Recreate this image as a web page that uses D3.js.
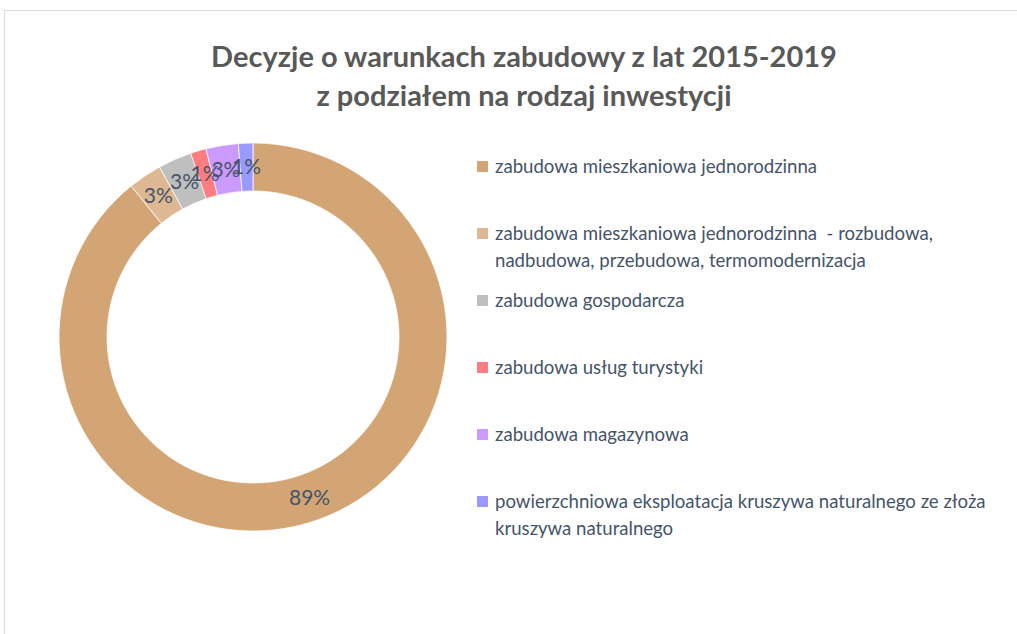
<!DOCTYPE html>
<html>
<head>
<meta charset="utf-8">
<script src="https://cdn.jsdelivr.net/npm/d3@7"></script>
<style>
  body { margin: 0; background: #fff; }
  svg { display: block; font-family: Lato, "Open Sans", sans-serif; }
</style>
</head>
<body>
<main></main>
<script>
// Donut with legend

const categories = [
	"zabudowa mieszkaniowa jednorodzinna",
	"zabudowa mieszkaniowa jednorodzinna  - rozbudowa,|nadbudowa, przebudowa, termomodernizacja",
	"zabudowa gospodarcza",
	"zabudowa usług turystyki",
	"zabudowa magazynowa",
	"powierzchniowa eksploatacja kruszywa naturalnego ze złoża|kruszywa naturalnego"
];
const values = [89.2, 2.8, 2.8, 1.3, 2.7, 1.2];
const labels = ["89%", "3%", "3%", "1%", "3%", "1%"];
const colors = ["#d3a574", "#ddb892", "#bfbfbf", "#ff7c80", "#cc99ff", "#9999ff"];
const titleLines = ["Decyzje o warunkach zabudowy z lat 2015-2019", "z podziałem na rodzaj inwestycji"];

const w = 1017;
const h = 634;
const cx = 253;
const cy = 337;
const rOut = 194;
const rIn = 146;
const textColor = "#44546a";

const svg = d3.select("main")
	.append("svg")
	.attr("width", w)
	.attr("height", h);

// chart frame
svg.append("rect")
	.attr("x", 4.5)
	.attr("y", 10.5)
	.attr("width", w + 20)
	.attr("height", h + 20)
	.attr("fill", "none")
	.attr("stroke", "#d9d9d9");

// title
svg.append("text")
	.attr("x", 524)
	.attr("y", 67)
	.attr("text-anchor", "middle")
	.attr("font-size", 29)
	.attr("font-weight", "bold")
	.attr("fill", "#595959")
	.style("white-space", "pre")
	.selectAll("tspan")
	.data(titleLines)
	.enter()
	.append("tspan")
	.attr("x", 524)
	.attr("dy", (d, i) => i === 0 ? 0 : 39)
	.text(d => d);

// donut
const pie = d3.pie().sort(null).value(d => d);
const arcs = pie(values);
const arc = d3.arc().innerRadius(rIn).outerRadius(rOut);
const labelArc = d3.arc().innerRadius(170).outerRadius(170);

const g = svg.append("g")
	.attr("transform", "translate(" + cx + "," + cy + ")");

g.selectAll("path")
	.data(arcs)
	.enter()
	.append("path")
	.attr("d", arc)
	.attr("fill", (d, i) => colors[i])
	.attr("stroke", "#fff")
	.attr("stroke-width", 0.75);

g.selectAll("text")
	.data(arcs)
	.enter()
	.append("text")
	.attr("transform", d => "translate(" + labelArc.centroid(d) + ")")
	.attr("text-anchor", "middle")
	.attr("dy", "0.35em")
	.attr("font-size", 21)
	.attr("fill", textColor)
	.text((d, i) => labels[i]);

// legend
const legY = d3.scaleBand()
	.domain(d3.range(categories.length))
	.range([142, 544]);

const leg = svg.selectAll(".leg")
	.data(categories)
	.enter()
	.append("g")
	.attr("class", "leg")
	.attr("transform", (d, i) => "translate(477," + legY(i) + ")");

leg.append("rect")
	.attr("x", 0)
	.attr("y", 19)
	.attr("width", 11)
	.attr("height", 11)
	.attr("fill", (d, i) => colors[i]);

leg.append("text")
	.attr("font-size", 18.6)
	.attr("fill", textColor)
	.style("white-space", "pre")
	.selectAll("tspan")
	.data(d => d.split("|"))
	.enter()
	.append("tspan")
	.attr("x", 18)
	.attr("y", (d, i) => 31 + i * 27)
	.text(d => d);
</script>
</body>
</html>
